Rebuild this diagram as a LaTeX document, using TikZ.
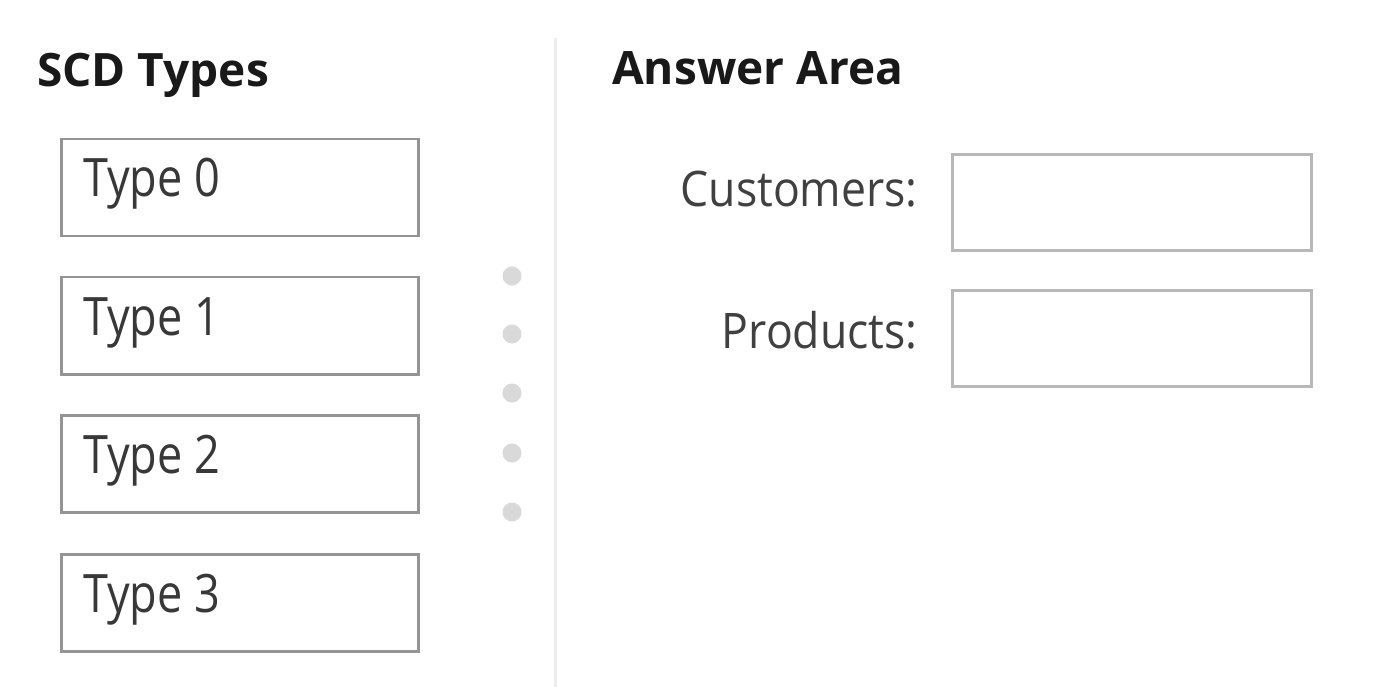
\documentclass[tikz,border=0pt]{standalone}
\usepackage{fontspec}
\setmainfont{Open Sans}
\begin{document}
\begin{tikzpicture}[x=1pt,y=-1pt,
  typebox/.style={draw=black!42, line width=2.5pt, fill=white, minimum width=357pt, minimum height=97pt, anchor=north west, inner sep=0pt},
  ansbox/.style={draw=black!28, line width=3pt, fill=white, minimum width=359pt, minimum height=96pt, anchor=north west, inner sep=0pt},
  typetxt/.style={anchor=base west, inner sep=0pt, text=black!78, font=\fontsize{53}{60}\selectfont},
  lbl/.style={anchor=base east, inner sep=0pt, text=black!75, font=\fontsize{49}{56}\selectfont},
  head/.style={anchor=base west, inner sep=0pt, text=black!90, font=\bfseries\fontsize{46}{52}\selectfont},
  dot/.style={circle, fill=black!15, minimum size=19pt, inner sep=0pt}]
\useasboundingbox (0,0) rectangle (1374,687);
\fill[white] (0,0) rectangle (1374,687);
% divider
\draw[black!7, line width=3pt] (555,38) -- (555,687);
% headings
\node[head] (h1) at (37,87) {SCD Types};
\node[head] (h2) at (612,85) {Answer Area};
% type boxes
\foreach \i/\y in {0/138,1/276,2/414,3/553}{
  \node[typebox] (b\i) at (60,\y) {};
  \node[typetxt] (t\i) at (83,\y+59) {\scalebox{0.85}[1]{Type \i}};
}
% dots
\foreach \i/\y in {1/276,2/334,3/393,4/453,5/512}{
  \node[dot] (d\i) at (512,\y) {};
}
% answer area
\node[ansbox] (a1) at (951,153) {};
\node[ansbox] (a2) at (951,289) {};
\node[lbl] (l1) at (918,207) {\scalebox{0.91}[1]{Customers:}};
\node[lbl] (l2) at (918,348) {\scalebox{0.91}[1]{Products:}};
\end{tikzpicture}
\end{document}
